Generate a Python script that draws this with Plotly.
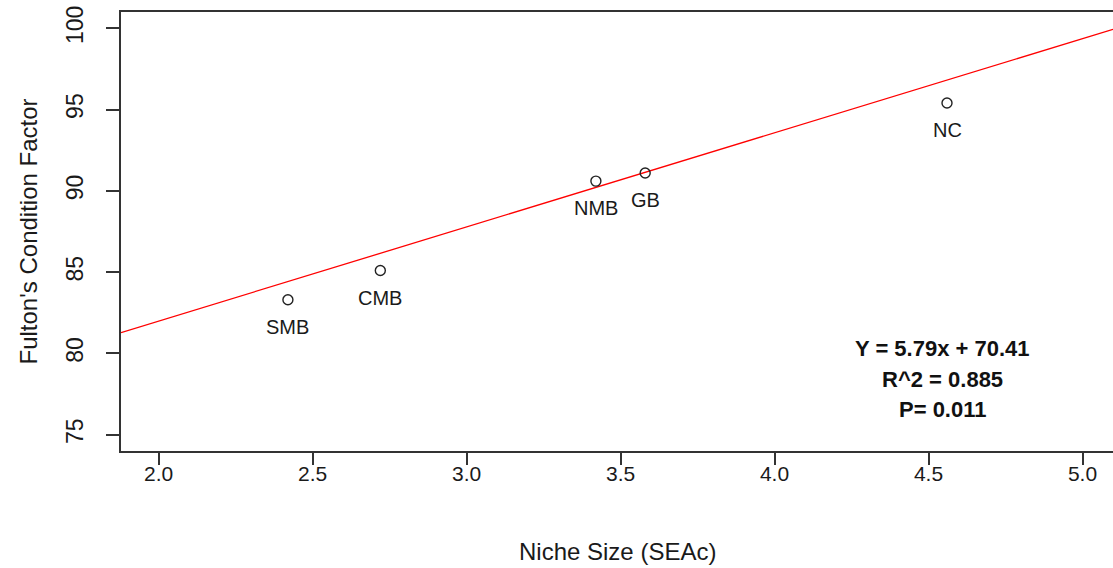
import plotly.graph_objects as go

# Sites: niche size (SEAc) vs Fulton's condition factor
sites = ["SMB", "CMB", "NMB", "GB", "NC"]
niche_size = [2.42, 2.72, 3.42, 3.58, 4.56]
condition = [83.3, 85.1, 90.6, 91.1, 95.4]

# Regression summary shown on the plot
slope = 5.79
intercept = 70.41
r_squared = 0.885
p_value = 0.011

x_ticks = [2.0, 2.5, 3.0, 3.5, 4.0, 4.5, 5.0]
y_ticks = [75, 80, 85, 90, 95, 100]

x_range = [1.878, 5.099]
y_range = [74, 101]

FONT = "Arial, Liberation Sans, sans-serif"
TXT = "#1a1a1a"

fig = go.Figure()

# Fitted line across the full x range
fig.add_trace(go.Scatter(
    x=x_range,
    y=[slope * v + intercept for v in x_range],
    mode="lines",
    line=dict(color="#ff0000", width=1.3),
    hoverinfo="skip",
    showlegend=False,
))

# Observed sites as open circles
fig.add_trace(go.Scatter(
    x=niche_size,
    y=condition,
    mode="markers",
    marker=dict(symbol="circle-open", size=10, color="#222222",
                line=dict(width=1.4, color="#222222")),
    showlegend=False,
))

annotations = []
for name, xv, yv in zip(sites, niche_size, condition):
    annotations.append(dict(
        x=xv, y=yv, xref="x", yref="y", text=name, showarrow=False,
        yshift=-27, font=dict(family=FONT, size=20, color=TXT),
    ))

stats_lines = [
    f"Y = {slope:.2f}x + {intercept:.2f}",
    f"R^2 = {r_squared:.3f}",
    f"P= {p_value:.3f}",
]
for i, line in enumerate(stats_lines):
    annotations.append(dict(
        x=0.8286, y=0.2346 - i * 0.0706, xref="paper", yref="paper",
        text=f"<b>{line}</b>", showarrow=False, xanchor="center", yanchor="middle",
        font=dict(family=FONT, size=22, color="#111111"),
    ))

# Axis titles
annotations.append(dict(
    x=0.5, y=0, xref="paper", yref="paper", yanchor="middle", yshift=-100,
    text="Niche Size (SEAc)", showarrow=False,
    font=dict(family=FONT, size=24, color=TXT),
))
annotations.append(dict(
    x=0, y=0.5, xref="paper", yref="paper", xshift=-93, textangle=-90,
    text="Fulton's Condition Factor", showarrow=False, xanchor="center", yanchor="middle",
    font=dict(family=FONT, size=24, color=TXT),
))

fig.update_layout(
    width=1113, height=568,
    margin=dict(l=121, r=0, t=12, b=117, pad=0),
    paper_bgcolor="white", plot_bgcolor="white",
    annotations=annotations,
    xaxis=dict(
        range=x_range, tickvals=x_ticks, ticktext=[f"{v:.1f}" for v in x_ticks],
        showgrid=False, zeroline=False,
        showline=True, mirror=True, linecolor="#333333", linewidth=1.5,
        ticks="outside", ticklen=12, tickwidth=1.5, tickcolor="#333333",
        ticklabelstandoff=-9,
        tickfont=dict(family=FONT, size=21, color=TXT),
    ),
    yaxis=dict(
        range=y_range, tickvals=y_ticks, ticktext=[str(v) for v in y_ticks],
        showgrid=False, zeroline=False,
        showline=True, mirror=False, linecolor="#333333", linewidth=1.5,
        ticks="outside", ticklen=13, tickwidth=1.5, tickcolor="#333333",
        tickangle=-90, ticklabelstandoff=14,
        tickfont=dict(family=FONT, size=23, color=TXT),
    ),
)

fig.write_html("out.html")
